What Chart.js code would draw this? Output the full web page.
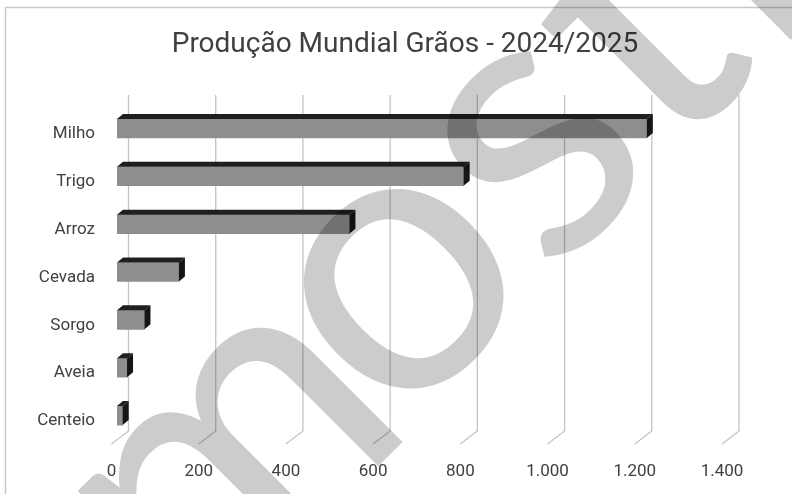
<!DOCTYPE html>
<html>
<head>
<meta charset="utf-8">
<script src="https://cdn.jsdelivr.net/npm/chart.js@4/dist/chart.umd.min.js"></script>
<style>
  body { margin: 0; background: #fff; }
</style>
</head>
<body>
<canvas id="graosChart" width="792" height="494"></canvas>
<script>
const categorias = ['Milho', 'Trigo', 'Arroz', 'Cevada', 'Sorgo', 'Aveia', 'Centeio']
// milhões de toneladas
const producao = [1215, 795, 533, 142, 63, 23, 13]
const eixoMin = 0
const eixoMax = 1400
const eixoPasso = 200

const corTexto = '#404040'
const fonte = 'Roboto'

// profundidade "3D" da parede do fundo e das barras
const fundoDx = 17
const fundoDy = 13
const barraDx = 6
const barraDy = -5

const formatarMilhar = v => String(v).replace(/\B(?=(\d{3})+(?!\d))/g, '.')

const efeito3D = {
  id: 'efeito3D',
  beforeDatasetsDraw(chart) {
    const { ctx, chartArea, scales: { x } } = chart
    ctx.save()
    ctx.strokeStyle = '#c4c4c4'
    ctx.lineWidth = 1.3
    x.ticks.forEach(t => {
      const px = x.getPixelForValue(t.value)
      ctx.beginPath()
      ctx.moveTo(px + fundoDx, chartArea.top - 15)
      ctx.lineTo(px + fundoDx, chartArea.bottom - 1 - fundoDy)
      ctx.lineTo(px, chartArea.bottom - 1)
      ctx.stroke()
    })
    ctx.restore()
    // barras ficam um pouco para dentro do chão
    ctx.save()
    ctx.translate(5.5, -5.5)
  },
  afterDatasetsDraw(chart) {
    const { ctx } = chart
    chart.getDatasetMeta(0).data.forEach(bar => {
      const { x, y, base, height } = bar.getProps(['x', 'y', 'base', 'height'], true)
      const topo = y - height / 2
      const fundo = y + height / 2
      ctx.fillStyle = '#1f1f1f'
      ctx.beginPath()
      ctx.moveTo(base, topo)
      ctx.lineTo(base + barraDx, topo + barraDy)
      ctx.lineTo(x + barraDx, topo + barraDy)
      ctx.lineTo(x, topo)
      ctx.closePath()
      ctx.fill()
      ctx.fillStyle = '#161616'
      ctx.beginPath()
      ctx.moveTo(x, topo)
      ctx.lineTo(x + barraDx, topo + barraDy)
      ctx.lineTo(x + barraDx, fundo + barraDy)
      ctx.lineTo(x, fundo)
      ctx.closePath()
      ctx.fill()
    })
    ctx.restore()
  },
  afterDraw(chart) {
    const { ctx } = chart
    // moldura (cortada à direita e em baixo)
    ctx.save()
    ctx.strokeStyle = '#c8c8c8'
    ctx.lineWidth = 1.5
    ctx.beginPath()
    ctx.moveTo(5.5, chart.height)
    ctx.lineTo(5.5, 7.5)
    ctx.lineTo(chart.width, 7.5)
    ctx.stroke()
    ctx.restore()

    // marca d'água
    ctx.save()
    ctx.font = '400 385px Lato'
    ctx.fillStyle = 'rgba(0,0,0,0.2)'
    ctx.translate(402, 287)
    ctx.rotate(-Math.PI / 4)
    const wm = ctx.measureText('m').width
    const wo = ctx.measureText('o').width
    ctx.textBaseline = 'alphabetic'
    ctx.fillText('m', -(wm + wo / 2) + 25, 110)
    ctx.fillText('osti', -wo / 2, 100)
    ctx.restore()
  }
}

new Chart('graosChart', {
  type: 'bar',
  data: {
    labels: categorias,
    datasets: [{
      data: producao,
      backgroundColor: '#8e8e90',
      borderWidth: 0,
      barThickness: 19
    }]
  },
  options: {
    indexAxis: 'y',
    responsive: false,
    animation: false,
    layout: {
      padding: { left: 18, right: 0, top: 0, bottom: 11.6 }
    },
    plugins: {
      legend: { display: false },
      tooltip: { enabled: false },
      title: {
        display: true,
        text: 'Produção Mundial Grãos - 2024/2025',
        color: corTexto,
        font: { family: fonte, size: 28, weight: 'normal' },
        padding: { top: 28.2, bottom: 48.2 }
      }
    },
    scales: {
      x: {
        min: eixoMin,
        max: eixoMax,
        grid: { display: false, drawTicks: false },
        border: { display: false },
        ticks: {
          stepSize: eixoPasso,
          color: corTexto,
          font: { family: fonte, size: 17 },
          padding: 17,
          callback: v => formatarMilhar(v)
        },
        afterFit: scale => {
          scale.paddingRight = 70
          scale.height = 37.4
        }
      },
      y: {
        grid: { display: false, drawTicks: false },
        border: { display: false },
        ticks: {
          color: corTexto,
          font: { family: fonte, size: 17 },
          padding: 16.5
        },
        afterFit: scale => { scale.width = 93.5 }
      }
    }
  },
  plugins: [efeito3D]
})
</script>
</body>
</html>
